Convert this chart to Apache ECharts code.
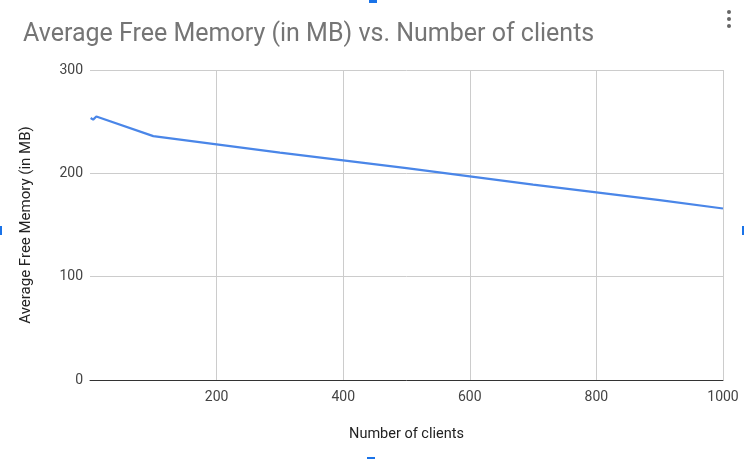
<!DOCTYPE html>
<html>
<head>
<meta charset="utf-8">
<script src="https://cdn.jsdelivr.net/npm/echarts@6/dist/echarts.min.js"></script>
<style>
  html, body { margin: 0; padding: 0; background: #fff; }
  #chart { width: 744px; height: 459px; }
</style>
</head>
<body>
<div id="chart"></div>
<script>
// number of clients
const clients = [1, 5, 10, 100, 200, 300, 400, 500, 600, 700, 800, 900, 1000];
// average free memory (MB)
const freeMemory = [253.5, 252, 255, 236, 228, 220, 212.5, 205, 197, 189, 181.5, 174, 166];
const xTicks = [0, 200, 400, 600, 800, 1000];
const yTicks = [0, 100, 200, 300];

const chartTitle = 'Average Free Memory (in MB) vs. Number of clients';
const xAxisName = 'Number of clients';
const yAxisName = 'Average Free Memory (in MB)';

const myChart = echarts.init(document.getElementById('chart'), null, {
  renderer: 'canvas',
});

const fontFamily = 'Roboto, Arial, sans-serif';
const handleColor = '#1a73e8';

const option = {
  animation: false,
  title: {
    text: chartTitle,
    left: 18,
    top: 17,
    textStyle: {
      fontFamily,
      fontSize: 25,
      fontWeight: 'normal',
      color: '#757575',
    },
  },
  grid: {
    left: 90,
    right: 21,
    top: 70,
    bottom: 79,
  },
  xAxis: {
    type: 'value',
    min: xTicks[0],
    max: xTicks[xTicks.length - 1],
    interval: 200,
    name: xAxisName,
    nameLocation: 'middle',
    nameGap: 47,
    nameTextStyle: { fontFamily, fontSize: 14.5, color: '#222' },
    axisLine: { show: true, lineStyle: { color: '#333', width: 1 } },
    axisTick: { show: false },
    axisLabel: {
      fontFamily,
      fontSize: 14,
      color: '#444',
      margin: 10,
      formatter: (v) => (v === 0 ? '' : String(v)),
    },
    splitLine: {
      show: true,
      lineStyle: { color: ['transparent', '#ccc', '#ccc', '#ccc', '#ccc', '#ccc'] },
    },
  },
  yAxis: {
    type: 'value',
    min: yTicks[0],
    max: yTicks[yTicks.length - 1],
    interval: 100,
    name: yAxisName,
    nameLocation: 'middle',
    nameGap: 56,
    nameTextStyle: { fontFamily, fontSize: 15, color: '#222' },
    axisLine: { show: false },
    axisTick: { show: false },
    axisLabel: {
      fontFamily,
      fontSize: 14,
      color: '#444',
      margin: 7,
    },
    splitLine: {
      show: true,
      lineStyle: { color: '#ccc' },
    },
  },
  series: [
    {
      name: yAxisName,
      type: 'line',
      data: clients.map((c, i) => [c, freeMemory[i]]),
      showSymbol: false,
      symbol: 'none',
      lineStyle: { color: '#4a86e8', width: 2.2 },
      itemStyle: { color: '#4a86e8' },
    },
  ],
  graphic: [
    // menu dots
    { type: 'circle', shape: { cx: 729, cy: 12, r: 2 }, style: { fill: '#666' } },
    { type: 'circle', shape: { cx: 729, cy: 19, r: 2 }, style: { fill: '#666' } },
    { type: 'circle', shape: { cx: 729, cy: 26, r: 2 }, style: { fill: '#666' } },
    // selection handles
    { type: 'rect', shape: { x: 369, y: 0, width: 8, height: 3 }, style: { fill: handleColor } },
    { type: 'rect', shape: { x: 367, y: 457, width: 8, height: 2 }, style: { fill: handleColor } },
    { type: 'rect', shape: { x: 0, y: 226, width: 2, height: 9 }, style: { fill: handleColor } },
    { type: 'rect', shape: { x: 742, y: 226, width: 2, height: 9 }, style: { fill: handleColor } },
  ],
};

myChart.setOption(option);
</script>
</body>
</html>
